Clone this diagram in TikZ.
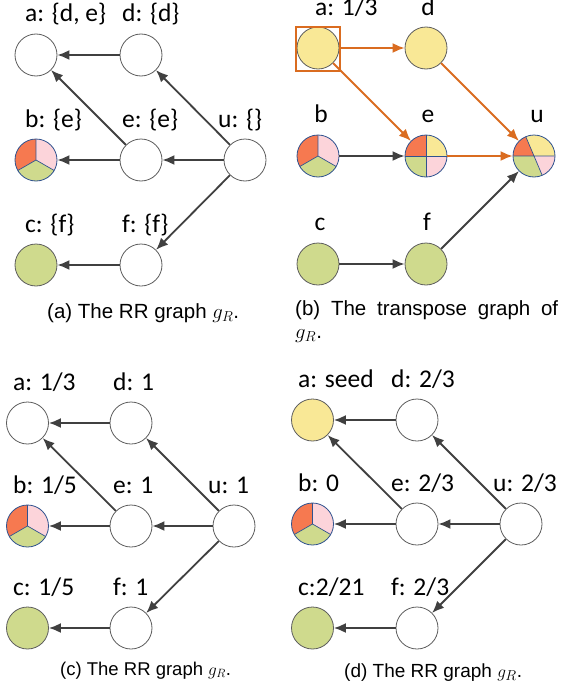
\documentclass[tikz,border=0pt]{standalone}
\usepackage{fontspec}
\usetikzlibrary{arrows.meta}
\newfontfamily\lblfont{Carlito}
\newfontfamily\capfont{Liberation Sans}

\definecolor{cred}{RGB}{246,121,80}
\definecolor{cyel}{RGB}{249,232,150}
\definecolor{cgrn}{RGB}{207,218,141}
\definecolor{cpnk}{RGB}{252,212,218}
\definecolor{corg}{RGB}{218,108,32}
\definecolor{cedge}{RGB}{64,64,64}
\definecolor{cnavy}{RGB}{47,82,143}

\tikzset{
  vtx/.style={circle, draw=cedge!85, line width=0.8pt, minimum size=42pt, inner sep=0pt, fill=white},
  vyel/.style={vtx, fill=cyel},
  vgrn/.style={vtx, fill=cgrn},
  % three-way split: red / pink / green
  pieb/.style={vtx, draw=cnavy, path picture={
      \coordinate (pc) at (path picture bounding box.center);
      \fill[cred] (pc) -- ++(90:25pt) arc[start angle=90, end angle=210, radius=25pt] -- cycle;
      \fill[cpnk] (pc) -- ++(-30:25pt) arc[start angle=-30, end angle=90, radius=25pt] -- cycle;
      \fill[cgrn] (pc) -- ++(210:25pt) arc[start angle=210, end angle=330, radius=25pt] -- cycle;
      \draw[cnavy, line width=0.7pt] (pc) -- ++(90:25pt) (pc) -- ++(210:25pt) (pc) -- ++(330:25pt);
    }},
  % four quadrants
  piee/.style={vtx, draw=cnavy, path picture={
      \coordinate (pc) at (path picture bounding box.center);
      \fill[cyel] (pc) -- ++(0:25pt) arc[start angle=0, end angle=90, radius=25pt] -- cycle;
      \fill[cred] (pc) -- ++(90:25pt) arc[start angle=90, end angle=180, radius=25pt] -- cycle;
      \fill[cgrn] (pc) -- ++(180:25pt) arc[start angle=180, end angle=270, radius=25pt] -- cycle;
      \fill[cpnk] (pc) -- ++(270:25pt) arc[start angle=270, end angle=360, radius=25pt] -- cycle;
      \draw[cnavy, line width=0.7pt] (pc) ++(-25pt,0) -- ++(50pt,0) (pc) ++(0,-25pt) -- ++(0,50pt);
    }},
  % merged split at u
  pieu/.style={vtx, draw=cnavy, path picture={
      \coordinate (pc) at (path picture bounding box.center);
      \fill[cyel] (pc) -- ++(0:25pt) arc[start angle=0, end angle=113, radius=25pt] -- cycle;
      \fill[cred] (pc) -- ++(113:25pt) arc[start angle=113, end angle=180, radius=25pt] -- cycle;
      \fill[cgrn] (pc) -- ++(180:25pt) arc[start angle=180, end angle=293, radius=25pt] -- cycle;
      \fill[cpnk] (pc) -- ++(293:25pt) arc[start angle=293, end angle=360, radius=25pt] -- cycle;
      \draw[cnavy, line width=0.7pt] (pc) ++(-25pt,0) -- ++(50pt,0) (pc) ++(113:25pt) -- ++(293:50pt);
    }},
  lbl/.style={anchor=base west, inner sep=0pt, font=\lblfont\fontsize{25.5}{30}\selectfont},
  lblc/.style={anchor=base, inner sep=0pt, font=\lblfont\fontsize{25.5}{30}\selectfont},
  captxt/.style={anchor=base west, inner sep=0pt, font=\capfont\fontsize{20.5}{24}\selectfont},
  arr/.style={draw=cedge, line width=1.8pt, -{Latex[length=12pt, width=10pt]}},
  oarr/.style={arr, draw=corg},
}

\begin{document}
\begin{tikzpicture}[x=1pt, y=1pt]
\useasboundingbox (0,0) rectangle (579,-688);

% ---------------- (a) ----------------
\node[vtx]  (a1) at (36,-55)  {};
\node[vtx]  (d1) at (141,-55) {};
\node[pieb] (b1) at (36,-160) {};
\node[vtx]  (e1) at (141,-160) {};
\node[vtx]  (u1) at (245,-160) {};
\node[vgrn] (c1) at (36,-265) {};
\node[vtx]  (f1) at (141,-265) {};
\node[lbl] (la1) at (25,-21)  {a: \{d, e\}};
\node[lbl] (ld1) at (122,-21) {d: \{d\}};
\node[lbl] (lb1) at (25,-127) {b: \{e\}};
\node[lbl] (le1) at (122,-127) {e: \{e\}};
\node[lbl] (lu1) at (218,-127) {u: \{\}};
\node[lbl] (lc1) at (25,-232) {c: \{f\}};
\node[lbl] (lf1) at (122,-232) {f: \{f\}};
\draw[arr] (d1) -- (a1);
\draw[arr] (e1) -- (a1);
\draw[arr] (u1) -- (d1);
\draw[arr] (u1) -- (e1);
\draw[arr] (u1) -- (f1);
\draw[arr] (e1) -- (b1);
\draw[arr] (f1) -- (c1);
\node[captxt] (capa) at (47,-318) {(a) The RR graph $g_R$.};

% ---------------- (b) ----------------
\node[vyel] (a2) at (318,-48)  {};
\node[vyel] (d2) at (426,-48)  {};
\node[pieb] (b2) at (318,-156) {};
\node[piee] (e2) at (426,-156) {};
\node[pieu] (u2) at (534,-156) {};
\node[vgrn] (c2) at (318,-264) {};
\node[vgrn] (f2) at (426,-264) {};
\draw[corg, line width=2pt] (296,-27) rectangle (340,-71);
\node[lbl]  (la2) at (315,-16) {a: 1/3};
\node[lblc] (ld2) at (428,-16) {d};
\node[lblc] (lb2) at (321,-122) {b};
\node[lblc] (le2) at (428,-122) {e};
\node[lblc] (lu2) at (537,-122) {u};
\node[lblc] (lc2) at (320,-230) {c};
\node[lblc] (lf2) at (427,-230) {f};
\draw[oarr] (a2) -- (d2);
\draw[oarr] (a2) -- (e2);
\draw[oarr] (d2) -- (u2);
\draw[oarr] (e2) -- (u2);
\draw[arr] (b2) -- (e2);
\draw[arr] (c2) -- (f2);
\draw[arr] (f2) -- (u2);
\node[captxt] (capb) at (295,-315)
  {\hbox to 263pt{(b)\hfill The\hfill transpose\hfill graph\hfill of}};
\node[captxt] (capb2) at (295,-338) {$g_R$.};

% ---------------- (c) ----------------
\node[vtx]  (a3) at (27.5,-423) {};
\node[vtx]  (d3) at (131,-423)  {};
\node[pieb] (b3) at (27.5,-526) {};
\node[vtx]  (e3) at (131,-526)  {};
\node[vtx]  (u3) at (234,-526)  {};
\node[vgrn] (c3) at (27.5,-628) {};
\node[vtx]  (f3) at (131,-628)  {};
\node[lbl] (la3) at (13,-390)  {a: 1/3};
\node[lbl] (ld3) at (113,-390) {d: 1};
\node[lbl] (lb3) at (13,-493)  {b: 1/5};
\node[lbl] (le3) at (113,-493) {e: 1};
\node[lbl] (lu3) at (208,-493) {u: 1};
\node[lbl] (lc3) at (13,-595)  {c: 1/5};
\node[lbl] (lf3) at (113,-595) {f: 1};
\draw[arr] (d3) -- (a3);
\draw[arr] (e3) -- (a3);
\draw[arr] (u3) -- (d3);
\draw[arr] (u3) -- (e3);
\draw[arr] (u3) -- (f3);
\draw[arr] (e3) -- (b3);
\draw[arr] (f3) -- (c3);
\node[captxt, font=\capfont\fontsize{18.5}{22}\selectfont] (capc) at (60,-675) {(c) The RR graph $g_R$.};

% ---------------- (d) ----------------
\node[vyel] (a4) at (312.5,-420) {};
\node[vtx]  (d4) at (417,-420)   {};
\node[pieb] (b4) at (312.5,-524) {};
\node[vtx]  (e4) at (417,-524)   {};
\node[vtx]  (u4) at (521,-524)   {};
\node[vgrn] (c4) at (312.5,-628) {};
\node[vtx]  (f4) at (417,-628)   {};
\node[lbl] (la4) at (298,-387) {a: seed};
\node[lbl] (ld4) at (391,-387) {d: 2/3};
\node[lbl] (lb4) at (298,-491) {b: 0};
\node[lbl] (le4) at (391,-491) {e: 2/3};
\node[lbl] (lu4) at (493,-491) {u: 2/3};
\node[lbl] (lc4) at (298,-595) {c:2/21};
\node[lbl] (lf4) at (391,-595) {f: 2/3};
\draw[arr] (d4) -- (a4);
\draw[arr] (e4) -- (a4);
\draw[arr] (u4) -- (d4);
\draw[arr] (u4) -- (e4);
\draw[arr] (u4) -- (f4);
\draw[arr] (e4) -- (b4);
\draw[arr] (f4) -- (c4);
\node[captxt, font=\capfont\fontsize{19}{23}\selectfont] (capd) at (344,-677) {(d) The RR graph $g_R$.};
\end{tikzpicture}
\end{document}
